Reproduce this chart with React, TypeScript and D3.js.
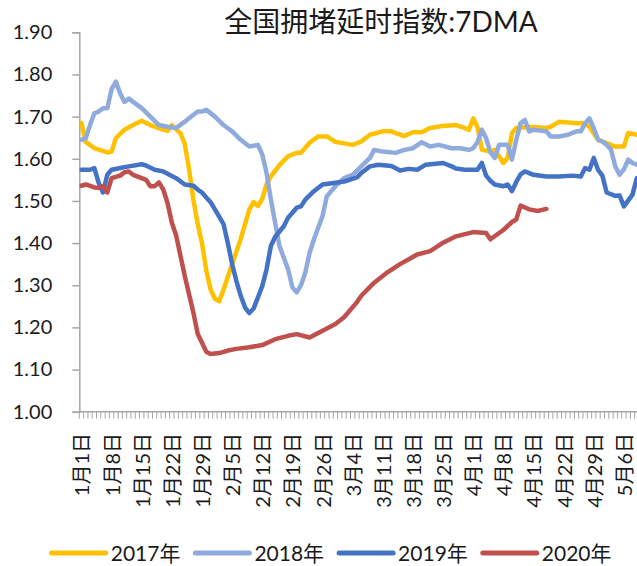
import React, { useRef, useEffect } from "react";
import * as d3 from "d3";

// day index (0 = 1月1日) and 7DMA value
const series2017: [number, number][] = [
	[0, 1.685], [1, 1.64], [3, 1.625], [6, 1.615], [7, 1.617], [8, 1.649], [10, 1.669],
	[12, 1.68], [14, 1.69], [16, 1.68], [19, 1.669], [20, 1.666], [21, 1.68], [22, 1.67],
	[23, 1.66], [24, 1.635], [25, 1.575], [26, 1.503], [27, 1.445], [28, 1.4], [29, 1.335],
	[30, 1.29], [31, 1.268], [32, 1.262], [33, 1.29], [35, 1.35], [37, 1.41], [39, 1.48],
	[40, 1.497], [41, 1.488], [42, 1.505], [43, 1.54], [44, 1.558], [46, 1.585], [48, 1.606],
	[50, 1.614], [51, 1.614], [53, 1.638], [55, 1.653], [57, 1.653], [59, 1.64], [63, 1.633],
	[65, 1.641], [67, 1.657], [70, 1.665], [72, 1.665], [73, 1.661], [75, 1.654], [77, 1.663],
	[79, 1.663], [81, 1.673], [84, 1.678], [87, 1.68], [89, 1.673], [90, 1.668], [91, 1.696],
	[92, 1.675], [93, 1.622], [95, 1.617], [96, 1.621], [97, 1.606], [98, 1.59], [99, 1.602],
	[100, 1.661], [101, 1.673], [104, 1.676], [108, 1.673], [109, 1.676], [111, 1.688],
	[115, 1.684], [117, 1.684], [118, 1.676], [120, 1.645], [122, 1.637], [124, 1.629],
	[126, 1.629], [127, 1.661], [129, 1.657],
];

const series2018: [number, number][] = [
	[0, 1.645], [1, 1.649], [2, 1.68], [3, 1.708], [4, 1.712], [5, 1.72], [6, 1.72],
	[7, 1.765], [8, 1.783], [9, 1.755], [10, 1.735], [11, 1.743], [12, 1.735], [14, 1.72],
	[16, 1.7], [18, 1.68], [20, 1.676], [22, 1.673], [24, 1.688], [25, 1.696], [27, 1.712],
	[28, 1.712], [29, 1.716], [31, 1.7], [33, 1.68], [35, 1.665], [37, 1.645], [39, 1.629],
	[41, 1.633], [42, 1.61], [43, 1.566], [44, 1.503], [45, 1.448], [46, 1.393], [48, 1.338],
	[49, 1.295], [50, 1.283], [51, 1.3], [52, 1.33], [53, 1.377], [54, 1.409], [56, 1.464],
	[57, 1.511], [59, 1.535], [61, 1.554], [63, 1.562], [65, 1.582], [67, 1.602], [68, 1.621],
	[70, 1.617], [73, 1.614], [75, 1.621], [77, 1.625], [79, 1.639], [81, 1.629], [83, 1.633],
	[86, 1.625], [88, 1.625], [90, 1.621], [91, 1.625], [92, 1.64], [93, 1.669], [94, 1.649],
	[95, 1.615], [96, 1.602], [97, 1.633], [99, 1.633], [100, 1.598], [101, 1.645],
	[102, 1.684], [103, 1.692], [104, 1.665], [105, 1.669], [108, 1.665], [109, 1.653],
	[111, 1.653], [113, 1.657], [115, 1.665], [116, 1.665], [117, 1.684], [118, 1.696],
	[119, 1.673], [120, 1.645], [121, 1.641], [122, 1.633], [123, 1.622], [124, 1.582],
	[125, 1.562], [126, 1.575], [127, 1.598], [128, 1.59], [129, 1.586],
];

const series2019: [number, number][] = [
	[0, 1.574], [2, 1.574], [3, 1.578], [4, 1.543], [5, 1.52], [6, 1.562], [7, 1.574],
	[9, 1.578], [11, 1.582], [14, 1.587], [15, 1.584], [17, 1.574], [19, 1.57], [22, 1.554],
	[24, 1.539], [26, 1.536], [27, 1.527], [28, 1.52], [29, 1.508], [30, 1.497], [31, 1.48],
	[33, 1.445], [34, 1.4], [35, 1.35], [36, 1.31], [37, 1.275], [38, 1.247], [39, 1.234],
	[40, 1.245], [42, 1.298], [43, 1.338], [44, 1.393], [45, 1.415], [47, 1.44], [48, 1.46],
	[50, 1.484], [51, 1.487], [52, 1.503], [54, 1.523], [56, 1.539], [59, 1.543], [61, 1.546],
	[64, 1.556], [65, 1.566], [67, 1.582], [69, 1.586], [72, 1.583], [74, 1.572], [76, 1.576],
	[78, 1.574], [80, 1.586], [84, 1.59], [86, 1.582], [87, 1.577], [89, 1.574], [92, 1.574],
	[93, 1.59], [94, 1.56], [95, 1.548], [96, 1.539], [98, 1.535], [99, 1.539], [100, 1.523],
	[101, 1.545], [102, 1.563], [103, 1.57], [105, 1.562], [108, 1.558], [111, 1.558],
	[114, 1.56], [116, 1.558], [117, 1.578], [118, 1.574], [119, 1.602], [120, 1.574],
	[121, 1.56], [122, 1.52], [124, 1.512], [125, 1.513], [126, 1.487], [128, 1.515],
	[129, 1.554],
];

const series2020: [number, number][] = [
	[0, 1.536], [1, 1.539], [3, 1.532], [4, 1.531], [5, 1.535], [6, 1.52], [7, 1.554],
	[9, 1.56], [10, 1.568], [11, 1.57], [12, 1.562], [14, 1.554], [15, 1.55], [16, 1.535],
	[17, 1.535], [18, 1.544], [19, 1.527], [20, 1.495], [21, 1.448], [22, 1.418], [23, 1.37],
	[24, 1.322], [26, 1.235], [27, 1.185], [29, 1.142], [30, 1.137], [32, 1.139], [34, 1.145],
	[36, 1.149], [39, 1.153], [42, 1.158], [45, 1.172], [48, 1.18], [50, 1.184], [53, 1.176],
	[56, 1.192], [59, 1.208], [61, 1.224], [64, 1.26], [65, 1.275], [68, 1.306], [71, 1.33],
	[74, 1.35], [78, 1.373], [81, 1.381], [84, 1.401], [87, 1.416], [91, 1.426], [94, 1.424],
	[95, 1.409], [98, 1.431], [100, 1.45], [101, 1.456], [102, 1.489], [104, 1.48],
	[106, 1.476], [108, 1.481],
];

const seriesNames = ["2017年", "2018年", "2019年", "2020年"];
const seriesColors = ["#FFC000", "#8FAADC", "#4472C4", "#C0504D"];
const tickLabels = [
	"1月1日", "1月8日", "1月15日", "1月22日", "1月29日", "2月5日", "2月12日",
	"2月19日", "2月26日", "3月4日", "3月11日", "3月18日", "3月25日", "4月1日",
	"4月8日", "4月15日", "4月22日", "4月29日", "5月6日",
];
const yTicks = [1.0, 1.1, 1.2, 1.3, 1.4, 1.5, 1.6, 1.7, 1.8, 1.9];
const title = "全国拥堵延时指数:7DMA";

const WIDTH = 637;
const HEIGHT = 566;
const FONT = "Lato, 'Noto Sans CJK SC', sans-serif";

const TrafficChart = () => {
	const svgRef = useRef<SVGSVGElement | null>(null);

	useEffect(() => {
		if (!svgRef.current) return;
		const svg = d3.select(svgRef.current);
		svg.selectAll("*").remove();

		const axisLeft = 79.3;
		const dayWidth = 4.305;
		const nDays = 130;
		const top = 32.3;
		const bottom = 411.7;

		const x = d3
			.scaleLinear()
			.domain([-0.5, nDays - 0.5])
			.range([axisLeft, axisLeft + nDays * dayWidth]);
		const y = d3.scaleLinear().domain([1.0, 1.9]).range([bottom, top]);

		const axisColor = "#A6A6A6";

		// title
		svg.append("text")
			.attr("x", 381)
			.attr("y", 32)
			.attr("text-anchor", "middle")
			.style("font-family", FONT)
			.style("font-size", "28px")
			.style("fill", "#1a1a1a")
			.text(title);

		// y axis
		const yAxis = svg
			.append("g")
			.attr("transform", `translate(${axisLeft},0)`)
			.call(
				d3
					.axisLeft(y)
					.tickValues(yTicks)
					.tickSize(7)
					.tickPadding(20)
					.tickFormat((d) => d3.format(".2f")(d as number))
			);
		yAxis.select(".domain").attr("stroke", axisColor).attr("stroke-width", 1.5);
		yAxis.selectAll(".tick line").attr("stroke", axisColor).attr("stroke-width", 1.5);
		yAxis
			.selectAll(".tick text")
			.style("font-family", FONT)
			.style("font-size", "20px")
			.style("fill", "#1a1a1a");

		// x axis: one small tick per day boundary
		const xg = svg.append("g");
		xg.append("line")
			.attr("x1", axisLeft)
			.attr("x2", WIDTH)
			.attr("y1", bottom)
			.attr("y2", bottom)
			.attr("stroke", axisColor)
			.attr("stroke-width", 1.5);
		xg.selectAll("line.day")
			.data(d3.range(0, nDays + 1))
			.join("line")
			.attr("class", "day")
			.attr("x1", (d) => x(d - 0.5))
			.attr("x2", (d) => x(d - 0.5))
			.attr("y1", bottom)
			.attr("y2", bottom + 7)
			.attr("stroke", axisColor)
			.attr("stroke-width", 1);

		xg.selectAll("text")
			.data(tickLabels)
			.join("text")
			.attr("transform", (_, i) => `translate(${x(i * 7)},433) rotate(-90)`)
			.attr("text-anchor", "end")
			.attr("dominant-baseline", "central")
			.style("font-family", FONT)
			.style("font-size", "20px")
			.style("fill", "#1a1a1a")
			.text((d) => d);

		// lines
		const line = d3
			.line<[number, number]>()
			.x((d) => x(d[0]))
			.y((d) => y(d[1]));

		const allSeries = [series2017, series2018, series2019, series2020];
		svg.append("defs")
			.append("clipPath")
			.attr("id", "plot-clip")
			.append("rect")
			.attr("x", axisLeft)
			.attr("y", 0)
			.attr("width", WIDTH - axisLeft)
			.attr("height", bottom);

		svg.append("g")
			.attr("clip-path", "url(#plot-clip)")
			.selectAll("path")
			.data(allSeries)
			.join("path")
			.attr("d", (d) => line(d))
			.attr("fill", "none")
			.attr("stroke", (_, i) => seriesColors[i])
			.attr("stroke-width", 4.5)
			.attr("stroke-linejoin", "round")
			.attr("stroke-linecap", "round");

		// legend
		const legend = svg
			.selectAll("g.legend")
			.data(seriesNames)
			.join("g")
			.attr("class", "legend")
			.attr("transform", (_, i) => `translate(${51.7 + i * 143.7},553)`);
		legend
			.append("line")
			.attr("x1", 0)
			.attr("x2", 54)
			.attr("stroke", (_, i) => seriesColors[i])
			.attr("stroke-width", 5)
			.attr("stroke-linecap", "round");
		legend
			.append("text")
			.attr("x", 59)
			.attr("dy", "0.36em")
			.style("font-family", FONT)
			.style("font-size", "21px")
			.style("fill", "#1a1a1a")
			.text((d) => d);
	}, []);

	return (
		<svg
			ref={svgRef}
			width={WIDTH}
			height={HEIGHT}
			style={{ position: "absolute", left: 0, top: 0, background: "#fff" }}
		/>
	);
};

export default function App() {
	return <TrafficChart />;
}
